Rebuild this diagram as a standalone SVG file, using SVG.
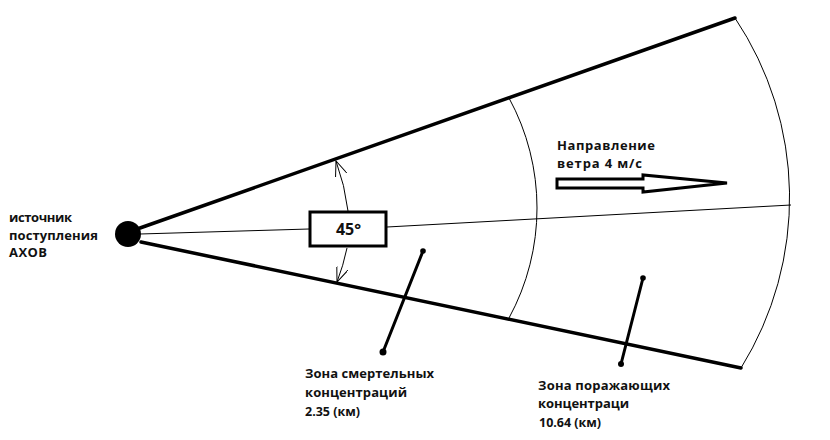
<svg xmlns="http://www.w3.org/2000/svg" width="830" height="440" viewBox="0 0 830 440">
  <defs>
    <style>
      .thick { stroke: #000; stroke-width: 3.5; fill: none; stroke-linecap: round; }
      .thin { stroke: #000; stroke-width: 1; fill: none; }
      .ptr { stroke: #000; stroke-width: 3; fill: none; stroke-linecap: round; }
      .lbl { font-family: "Open Sans", "DejaVu Sans", sans-serif; font-weight: bold; font-size: 13px; fill: #111; }
      .num { font-family: "Open Sans", "Liberation Sans", sans-serif; font-weight: bold; font-size: 12.5px; fill: #111; }
      .dot { fill: #000; }
    </style>
    <marker id="open" viewBox="0 0 16 12" refX="15" refY="6" markerWidth="16" markerHeight="12" markerUnits="userSpaceOnUse" orient="auto">
      <path d="M0,0 L15,6 L0,12" fill="none" stroke="#000" stroke-width="1"/>
    </marker>
  </defs>
  <rect width="830" height="440" fill="#fff"/>

  <g id="connectors">
    <!-- sector edges -->
    <line class="thick" x1="140" y1="228" x2="735" y2="18"/>
    <line class="thick" x1="141" y1="242" x2="741" y2="368"/>
    <!-- axis -->
    <polyline class="thin" points="140,234 309,229"/>
    <polyline class="thin" points="387,227 791,205"/>
    <!-- zone boundaries -->
    <path class="thin" d="M509,98 A230,230 0 0 1 509,318"/>
    <path class="thin" d="M735,18 A323,323 0 0 1 741,368"/>
    <!-- angle arcs -->
    <path class="thin" d="M348,211 A221,221 0 0 0 336,161" marker-end="url(#open)"/>
    <path class="thin" d="M347,248 A218,218 0 0 1 337,282" marker-end="url(#open)"/>
    <!-- pointers -->
    <line class="ptr" x1="423" y1="251" x2="383" y2="352"/>
    <circle class="dot" cx="423" cy="251" r="2.8"/>
    <circle class="dot" cx="383" cy="352" r="3.5"/>
    <line class="ptr" x1="643" y1="278" x2="621" y2="364"/>
    <circle class="dot" cx="643" cy="278" r="2.8"/>
    <circle class="dot" cx="621" cy="364" r="3"/>
  </g>

  <g id="source">
    <circle cx="128" cy="234" r="13" fill="#000"/>
    <text class="lbl" x="9" y="222" textLength="63">источник</text>
    <text class="lbl" x="9" y="239.5" textLength="89">поступления</text>
    <text class="lbl" x="9" y="257" textLength="38">АХОВ</text>
  </g>

  <g id="angle">
    <rect x="310" y="212" width="76" height="34" fill="#fff" stroke="#000" stroke-width="3"/>
    <text class="lbl" x="348.5" y="235" text-anchor="middle" style="font-size:16px">45°</text>
  </g>

  <g id="wind">
    <polygon points="557,179 643,179 643,175 727,183 643,192 643,188 557,188" fill="#fff" stroke="#000" stroke-width="3" stroke-linejoin="miter"/>
    <text class="lbl" x="557" y="150" textLength="98">Направление</text>
    <text class="lbl" x="557" y="168" textLength="85">ветра 4 м/с</text>
  </g>

  <g id="zone-lethal">
    <text class="lbl" x="305" y="378" textLength="129">Зона смертельных</text>
    <text class="lbl" x="305" y="397" textLength="102">концентраций</text>
    <text class="num" x="305" y="416" textLength="55">2.35 (км)</text>
  </g>

  <g id="zone-damage">
    <text class="lbl" x="538" y="390" textLength="132">Зона поражающих</text>
    <text class="lbl" x="538" y="408" textLength="91">концентраци</text>
    <text class="num" x="539" y="427" textLength="62">10.64 (км)</text>
  </g>
</svg>
